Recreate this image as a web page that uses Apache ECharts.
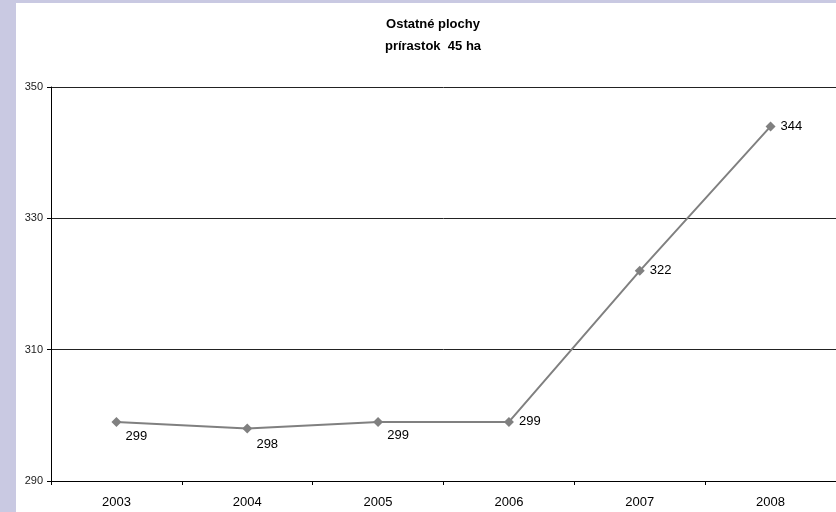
<!DOCTYPE html>
<html><head><meta charset="utf-8">
<script src="https://cdn.jsdelivr.net/npm/echarts@6/dist/echarts.min.js"></script>
<style>html,body{margin:0;padding:0;background:#c9c9e2;}#wrap{position:absolute;left:16px;top:3px;width:820px;height:509px;background:#fff;}#c{width:836px;height:512px;position:absolute;left:0;top:0;}</style>
</head><body><div id="wrap"></div><div id="c"></div>
<script>
const categories = ['2003','2004','2005','2006','2007','2008'];
const values = [299, 298, 299, 299, 322, 344];
const yTicks = [290, 310, 330, 350];
const titleLines = ['Ostatné plochy', 'prírastok  45 ha'];

const labelPos = [
  {position:'bottom', offset:[20,-2]},
  {position:'bottom', offset:[20,-1]},
  {position:'bottom', offset:[20,-3]},
  {position:'right', offset:[0,0]},
  {position:'right', offset:[0,0]},
  {position:'right', offset:[0,0]}
];
const chart = echarts.init(document.getElementById('c'), null, {renderer:'canvas'});
chart.setOption({
  animation:false,
  backgroundColor:'transparent',
  title:{text:titleLines.join('\n'), left:428, textAlign:'center', top:8,
    textStyle:{fontFamily:'Liberation Sans, Arial', fontSize:13, fontWeight:'bold', color:'#000', lineHeight:22}},
  grid:{left:51, top:87, width:786, height:394, containLabel:false},
  xAxis:{type:'category', data:categories, boundaryGap:true,
    axisLine:{lineStyle:{color:'#000', width:1}},
    axisTick:{show:true, inside:false, length:4, lineStyle:{color:'#000'}},
    axisLabel:{fontFamily:'Liberation Sans, Arial', fontSize:13, color:'#000', margin:15},
    splitLine:{show:false}},
  yAxis:{type:'value', min:yTicks[0], max:yTicks[yTicks.length-1], interval:20,
    axisLine:{show:true, lineStyle:{color:'#000', width:1}},
    axisTick:{show:true, length:4, lineStyle:{color:'#000'}},
    axisLabel:{fontFamily:'Liberation Sans, Arial', fontSize:11, color:'#222', margin:8},
    splitLine:{show:true, lineStyle:{color:'#222', width:1}}},
  series:[{type:'line', data:values.map((v,i)=>({value:v, label:labelPos[i]})),
    symbol:'diamond', symbolSize:10,
    lineStyle:{color:'#808080', width:2},
    itemStyle:{color:'#808080'},
    label:{show:true, fontFamily:'Liberation Sans, Arial', fontSize:13, color:'#000'}}]
});
</script></body></html>
